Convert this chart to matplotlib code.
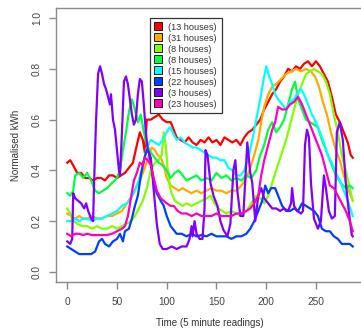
import matplotlib
matplotlib.use("Agg")
import matplotlib.pyplot as plt

# ----------------------------
# DATOS (lecturas de 5 minutos)
# ----------------------------
etiquetas = ["(13 houses)", "(31 houses)", "(8 houses)", "(8 houses)",
             "(15 houses)", "(22 houses)", "(3 houses)", "(23 houses)"]
colores = ["#FF0000", "#FFAA00", "#80FF00", "#00FF40",
           "#00FFFF", "#0040FF", "#8000FF", "#FF00BF"]

t_rojo = [0, 3, 6, 10, 14, 18, 22, 26, 30, 34, 38, 42, 46, 50, 54, 58, 62, 66, 70, 73, 76, 78, 80, 84, 88, 92, 96,
          100, 104, 107, 110, 114, 118, 122, 126, 130, 134, 138, 142, 146, 150, 154, 158, 162, 166, 170, 174, 178,
          182, 186, 190, 194, 198, 202, 206, 210, 214, 218, 222, 226, 230, 234, 238, 242, 246, 250, 254, 258, 262,
          266, 270, 274, 278, 282, 285, 287]
v_rojo = [0.43, 0.44, 0.42, 0.39, 0.39, 0.37, 0.37, 0.36, 0.37, 0.37, 0.36, 0.38, 0.38, 0.37, 0.38, 0.39, 0.41,
          0.43, 0.50, 0.55, 0.52, 0.47, 0.60, 0.60, 0.61, 0.62, 0.60, 0.59, 0.59, 0.56, 0.53, 0.52, 0.51, 0.53, 0.51,
          0.50, 0.52, 0.51, 0.53, 0.51, 0.52, 0.50, 0.53, 0.52, 0.51, 0.52, 0.50, 0.53, 0.55, 0.56, 0.58, 0.60, 0.64,
          0.67, 0.70, 0.72, 0.75, 0.77, 0.80, 0.79, 0.81, 0.80, 0.82, 0.83, 0.81, 0.83, 0.81, 0.78, 0.75, 0.69, 0.62,
          0.59, 0.55, 0.51, 0.46, 0.45]

t_naranja = [0, 4, 8, 12, 16, 20, 25, 30, 35, 40, 45, 50, 55, 60, 65, 70, 74, 78, 82, 85, 88, 91, 94, 97, 100,
             104, 108, 112, 116, 120, 125, 130, 135, 140, 145, 150, 155, 160, 165, 170, 175, 180, 184, 188, 192,
             195, 198, 202, 206, 210, 215, 220, 225, 230, 235, 240, 245, 249, 253, 257, 261, 265, 270, 274, 278,
             282, 287]
v_naranja = [0.23, 0.22, 0.21, 0.22, 0.21, 0.21, 0.22, 0.21, 0.21, 0.22, 0.22, 0.23, 0.24, 0.27, 0.30, 0.34, 0.37,
             0.41, 0.46, 0.49, 0.48, 0.46, 0.45, 0.42, 0.37, 0.34, 0.33, 0.32, 0.33, 0.32, 0.31, 0.32, 0.31, 0.32,
             0.33, 0.32, 0.32, 0.31, 0.32, 0.32, 0.34, 0.37, 0.41, 0.46, 0.52, 0.59, 0.65, 0.70, 0.73, 0.74, 0.76,
             0.78, 0.79, 0.80, 0.79, 0.80, 0.79, 0.77, 0.73, 0.67, 0.62, 0.55, 0.48, 0.44, 0.38, 0.33, 0.28]

t_lima = [0, 3, 6, 10, 15, 20, 25, 30, 35, 40, 45, 50, 55, 60, 64, 68, 72, 76, 80, 84, 88, 92, 95, 97, 99, 101,
          104, 108, 112, 116, 120, 125, 130, 135, 140, 144, 148, 152, 156, 160, 165, 170, 175, 180, 185, 190, 194,
          198, 202, 206, 210, 215, 220, 224, 228, 232, 236, 240, 244, 248, 252, 256, 260, 264, 268, 272, 276, 280,
          284, 287]
v_lima = [0.25, 0.23, 0.20, 0.19, 0.18, 0.18, 0.17, 0.18, 0.17, 0.17, 0.18, 0.17, 0.18, 0.19, 0.20, 0.22, 0.25,
          0.28, 0.33, 0.40, 0.43, 0.44, 0.46, 0.55, 0.50, 0.40, 0.32, 0.28, 0.27, 0.26, 0.27, 0.26, 0.27, 0.28,
          0.29, 0.30, 0.27, 0.25, 0.24, 0.23, 0.24, 0.23, 0.22, 0.24, 0.27, 0.30, 0.29, 0.27, 0.30, 0.35, 0.40,
          0.46, 0.52, 0.58, 0.64, 0.70, 0.74, 0.78, 0.79, 0.80, 0.79, 0.78, 0.75, 0.70, 0.62, 0.55, 0.46, 0.40,
          0.33, 0.28]

t_verde = [0, 3, 6, 8, 12, 16, 20, 24, 28, 32, 36, 40, 45, 50, 53, 56, 59, 62, 65, 68, 71, 74, 77, 80, 84, 88, 92,
           96, 100, 104, 108, 112, 116, 120, 125, 130, 135, 140, 145, 150, 155, 160, 165, 170, 175, 180, 185, 190,
           194, 198, 202, 206, 210, 214, 218, 222, 226, 229, 232, 236, 240, 244, 248, 252, 256, 260, 265, 270, 275,
           280, 284, 287]
v_verde = [0.31, 0.30, 0.32, 0.38, 0.39, 0.37, 0.39, 0.36, 0.32, 0.31, 0.32, 0.33, 0.35, 0.37, 0.40, 0.48, 0.55,
           0.63, 0.68, 0.64, 0.59, 0.62, 0.55, 0.50, 0.47, 0.45, 0.43, 0.42, 0.40, 0.37, 0.39, 0.40, 0.38, 0.36,
           0.37, 0.38, 0.36, 0.37, 0.36, 0.39, 0.37, 0.38, 0.36, 0.37, 0.36, 0.38, 0.37, 0.40, 0.46, 0.50, 0.56,
           0.59, 0.55, 0.57, 0.60, 0.66, 0.72, 0.75, 0.68, 0.64, 0.60, 0.59, 0.58, 0.57, 0.52, 0.48, 0.43, 0.38,
           0.35, 0.33, 0.34, 0.33]

t_cian = [0, 4, 8, 12, 16, 20, 25, 30, 35, 40, 45, 50, 55, 60, 64, 68, 72, 76, 80, 84, 88, 92, 96, 100, 103, 106,
          110, 114, 118, 122, 126, 130, 134, 138, 142, 146, 150, 154, 158, 162, 166, 170, 174, 178, 182, 186, 190,
          194, 197, 200, 203, 206, 209, 212, 216, 220, 224, 228, 232, 235, 238, 242, 246, 250, 254, 258, 262, 266,
          270, 274, 278, 282, 287]
v_cian = [0.20, 0.20, 0.21, 0.20, 0.21, 0.21, 0.20, 0.21, 0.21, 0.22, 0.23, 0.24, 0.26, 0.27, 0.29, 0.32, 0.36,
          0.42, 0.49, 0.52, 0.51, 0.50, 0.52, 0.55, 0.57, 0.55, 0.52, 0.53, 0.51, 0.50, 0.49, 0.49, 0.48, 0.47,
          0.46, 0.45, 0.45, 0.44, 0.44, 0.41, 0.40, 0.38, 0.38, 0.40, 0.45, 0.52, 0.60, 0.68, 0.75, 0.81, 0.77,
          0.74, 0.70, 0.68, 0.66, 0.64, 0.67, 0.68, 0.71, 0.72, 0.70, 0.66, 0.62, 0.59, 0.55, 0.51, 0.46, 0.43,
          0.39, 0.36, 0.32, 0.28, 0.22]

t_azul = [0, 4, 8, 12, 16, 20, 24, 28, 32, 35, 38, 42, 46, 50, 53, 56, 58, 62, 65, 68, 71, 74, 77, 80, 82, 84, 87,
          90, 94, 97, 100, 104, 107, 110, 115, 120, 125, 130, 135, 140, 145, 150, 155, 160, 165, 170, 175, 180,
          184, 188, 192, 196, 199, 202, 205, 209, 212, 216, 220, 224, 228, 232, 236, 240, 244, 248, 252, 256, 260,
          264, 268, 272, 276, 280, 284, 287]
v_azul = [0.10, 0.09, 0.08, 0.07, 0.07, 0.07, 0.07, 0.08, 0.12, 0.13, 0.11, 0.10, 0.12, 0.13, 0.15, 0.12, 0.16,
          0.17, 0.21, 0.26, 0.30, 0.38, 0.44, 0.48, 0.47, 0.43, 0.35, 0.31, 0.28, 0.26, 0.22, 0.18, 0.165, 0.15,
          0.15, 0.14, 0.15, 0.14, 0.145, 0.14, 0.15, 0.14, 0.14, 0.14, 0.13, 0.14, 0.14, 0.15, 0.17, 0.20, 0.24,
          0.28, 0.34, 0.31, 0.33, 0.33, 0.30, 0.26, 0.24, 0.24, 0.25, 0.24, 0.27, 0.26, 0.25, 0.24, 0.22, 0.17,
          0.16, 0.16, 0.14, 0.13, 0.11, 0.11, 0.11, 0.10]

t_morado = [0, 3, 5, 6, 8, 11, 14, 17, 19, 21, 24, 26, 27, 29, 31, 33, 35, 37, 39, 41, 43, 44, 46, 48, 50, 52, 53,
            55, 57, 59, 61, 63, 65, 67, 69, 71, 73, 75, 77, 79, 81, 84, 87, 90, 93, 96, 100, 105, 110, 115, 120,
            123, 125, 126, 128, 130, 133, 136, 138, 139, 141, 144, 147, 151, 154, 157, 161, 164, 167, 169, 171,
            174, 177, 181, 184, 186, 189, 192, 195, 198, 202, 206, 210, 214, 218, 222, 225, 226, 228, 231, 235,
            237, 239, 241, 243, 245, 248, 252, 255, 258, 260, 263, 266, 269, 271, 274, 277, 280, 283, 286, 287]
v_morado = [0.12, 0.11, 0.13, 0.31, 0.29, 0.28, 0.27, 0.25, 0.27, 0.24, 0.21, 0.20, 0.35, 0.60, 0.78, 0.81, 0.78,
            0.74, 0.72, 0.69, 0.66, 0.70, 0.60, 0.56, 0.48, 0.40, 0.38, 0.55, 0.75, 0.77, 0.74, 0.68, 0.62, 0.58,
            0.60, 0.70, 0.76, 0.75, 0.66, 0.55, 0.48, 0.45, 0.32, 0.19, 0.11, 0.09, 0.09, 0.10, 0.09, 0.10, 0.10,
            0.13, 0.18, 0.14, 0.20, 0.15, 0.13, 0.13, 0.25, 0.48, 0.46, 0.35, 0.30, 0.26, 0.20, 0.165, 0.14, 0.19,
            0.40, 0.44, 0.32, 0.22, 0.22, 0.51, 0.39, 0.35, 0.20, 0.30, 0.33, 0.29, 0.27, 0.25, 0.25, 0.24, 0.25,
            0.24, 0.27, 0.33, 0.26, 0.24, 0.23, 0.24, 0.50, 0.56, 0.53, 0.35, 0.21, 0.17, 0.20, 0.38, 0.33, 0.24,
            0.21, 0.22, 0.55, 0.59, 0.52, 0.35, 0.24, 0.145, 0.14]

t_magenta = [0, 4, 8, 12, 16, 20, 25, 30, 35, 40, 45, 50, 55, 58, 61, 64, 67, 70, 73, 76, 78, 81, 84, 87, 90, 94,
             97, 100, 104, 107, 111, 115, 120, 125, 130, 135, 140, 145, 150, 155, 160, 165, 170, 175, 180, 184,
             188, 192, 195, 198, 202, 206, 209, 212, 216, 220, 224, 228, 232, 236, 240, 244, 248, 252, 256, 260,
             264, 268, 272, 276, 280, 284, 287]
v_magenta = [0.15, 0.14, 0.15, 0.15, 0.145, 0.15, 0.145, 0.145, 0.145, 0.145, 0.15, 0.16, 0.17, 0.18, 0.22, 0.29,
             0.36, 0.39, 0.43, 0.42, 0.45, 0.44, 0.42, 0.37, 0.32, 0.29, 0.28, 0.27, 0.26, 0.26, 0.24, 0.23, 0.23,
             0.22, 0.23, 0.22, 0.22, 0.22, 0.23, 0.22, 0.22, 0.22, 0.23, 0.23, 0.24, 0.25, 0.27, 0.30, 0.38, 0.44,
             0.50, 0.56, 0.59, 0.65, 0.64, 0.64, 0.66, 0.67, 0.69, 0.66, 0.62, 0.58, 0.54, 0.50, 0.46, 0.40, 0.34,
             0.33, 0.30, 0.27, 0.24, 0.20, 0.16]

series = [(t_rojo, v_rojo), (t_naranja, v_naranja), (t_lima, v_lima), (t_verde, v_verde),
          (t_cian, v_cian), (t_azul, v_azul), (t_morado, v_morado), (t_magenta, v_magenta)]

# ----------------------------
# FIGURA
# ----------------------------
plt.rcParams['font.family'] = ['Liberation Sans', 'DejaVu Sans']

fig = plt.figure(figsize=(3.61, 3.34), dpi=100)
ax = fig.add_axes([0.1551, 0.1557, 0.8532, 0.8204])

for (t, v), c in zip(series, colores):
    ax.plot(t, v, color=c, linewidth=1.6, solid_joinstyle='round')

ax.set_xlim(-11.3, 298.3)
ax.set_ylim(-0.04, 1.04)
ax.set_xticks([0, 50, 100, 150, 200, 250])
ax.set_yticks([0.0, 0.2, 0.4, 0.6, 0.8, 1.0])
ax.set_yticklabels(["0.0", "0.2", "0.4", "0.6", "0.8", "1.0"], rotation=90, va='center')

for s in ax.spines.values():
    s.set_color('#8a8a8a')
    s.set_linewidth(1.0)
ax.tick_params(direction='out', length=5, width=1.0, color='#8a8a8a',
               labelsize=7.3, labelcolor='#444444')
ax.tick_params(axis='x', pad=6)
ax.tick_params(axis='y', pad=5)

ax.set_xlabel("Time (5 minute readings)", fontsize=7, color='#333333', labelpad=8)
ax.set_ylabel("Normalised kWh", fontsize=7, color='#333333', labelpad=8)

# leyenda con cuadrados de color
handles = [plt.Line2D([], [], linestyle='none', marker='s', markersize=5.5,
                      markerfacecolor=c, markeredgecolor='black', markeredgewidth=0.6)
           for c in colores]
leg = fig.legend(handles, etiquetas, loc='upper left', bbox_to_anchor=(150 / 361, 1 - 18 / 334),
                 fontsize=6.6, frameon=True, fancybox=False, edgecolor='black',
                 handlelength=0.8, handletextpad=0.7, borderpad=0.5, labelspacing=0.22,
                 borderaxespad=0)
leg.get_frame().set_linewidth(0.9)
for txt in leg.get_texts():
    txt.set_color('#333333')

fig.savefig("out.png", dpi=100)
